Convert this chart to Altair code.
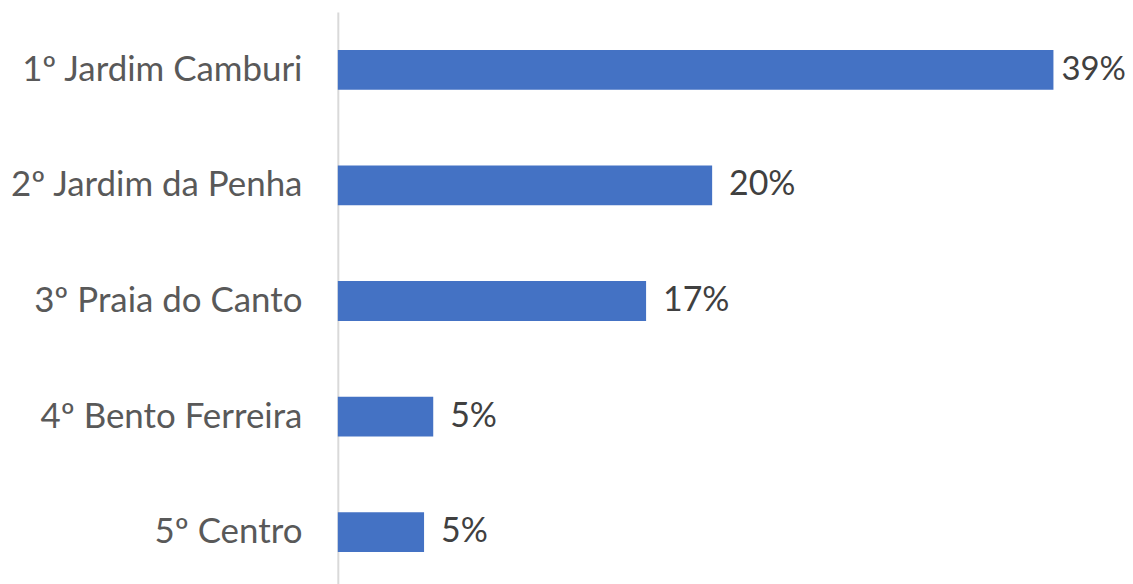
import altair as alt
import pandas as pd

categories = ["1º Jardim Camburi", "2º Jardim da Penha", "3º Praia do Canto", "4º Bento Ferreira", "5º Centro"]
values = [39.0, 20.4, 16.8, 5.2, 4.7]
labels = ["39%", "20%", "17%", "5%", "5%"]

df = pd.DataFrame({"cat": categories, "val": values, "lab": labels})

FONT = "Lato"

y = alt.Y("cat:N", sort=categories,
          scale=alt.Scale(paddingInner=0.655, paddingOuter=0.3275),
          axis=alt.Axis(title=None, ticks=False, labelPadding=36, labelFontSize=35,
                        labelFont=FONT, labelColor="#595959", domainColor="#d9d9d9",
                        domainWidth=2, grid=False, labelLimit=400))
x = alt.X("val:Q", scale=alt.Scale(domain=[0, 42.9], nice=False, zero=True), axis=None)

bars = alt.Chart(df).mark_bar(color="#4472C4").encode(x=x, y=y)
text_top = alt.Chart(df).transform_filter(alt.datum.val > 30).mark_text(
    align="left", baseline="middle", dx=8, fontSize=33, font=FONT, color="#404040"
).encode(x=x, y=y, text="lab:N")
text_rest = alt.Chart(df).transform_filter(alt.datum.val <= 30).mark_text(
    align="left", baseline="middle", dx=17, fontSize=34, font=FONT, color="#404040"
).encode(x=x, y=y, text="lab:N")

chart = (bars + text_top + text_rest).properties(
    width=790, height=580,
    autosize=alt.AutoSizeParams(type="none"),
    padding={"left": 331, "top": 3, "right": 0, "bottom": 0},
    background="white",
).configure_view(stroke=None)

chart.save("out.html", embed_options={"renderer": "svg", "actions": False})
